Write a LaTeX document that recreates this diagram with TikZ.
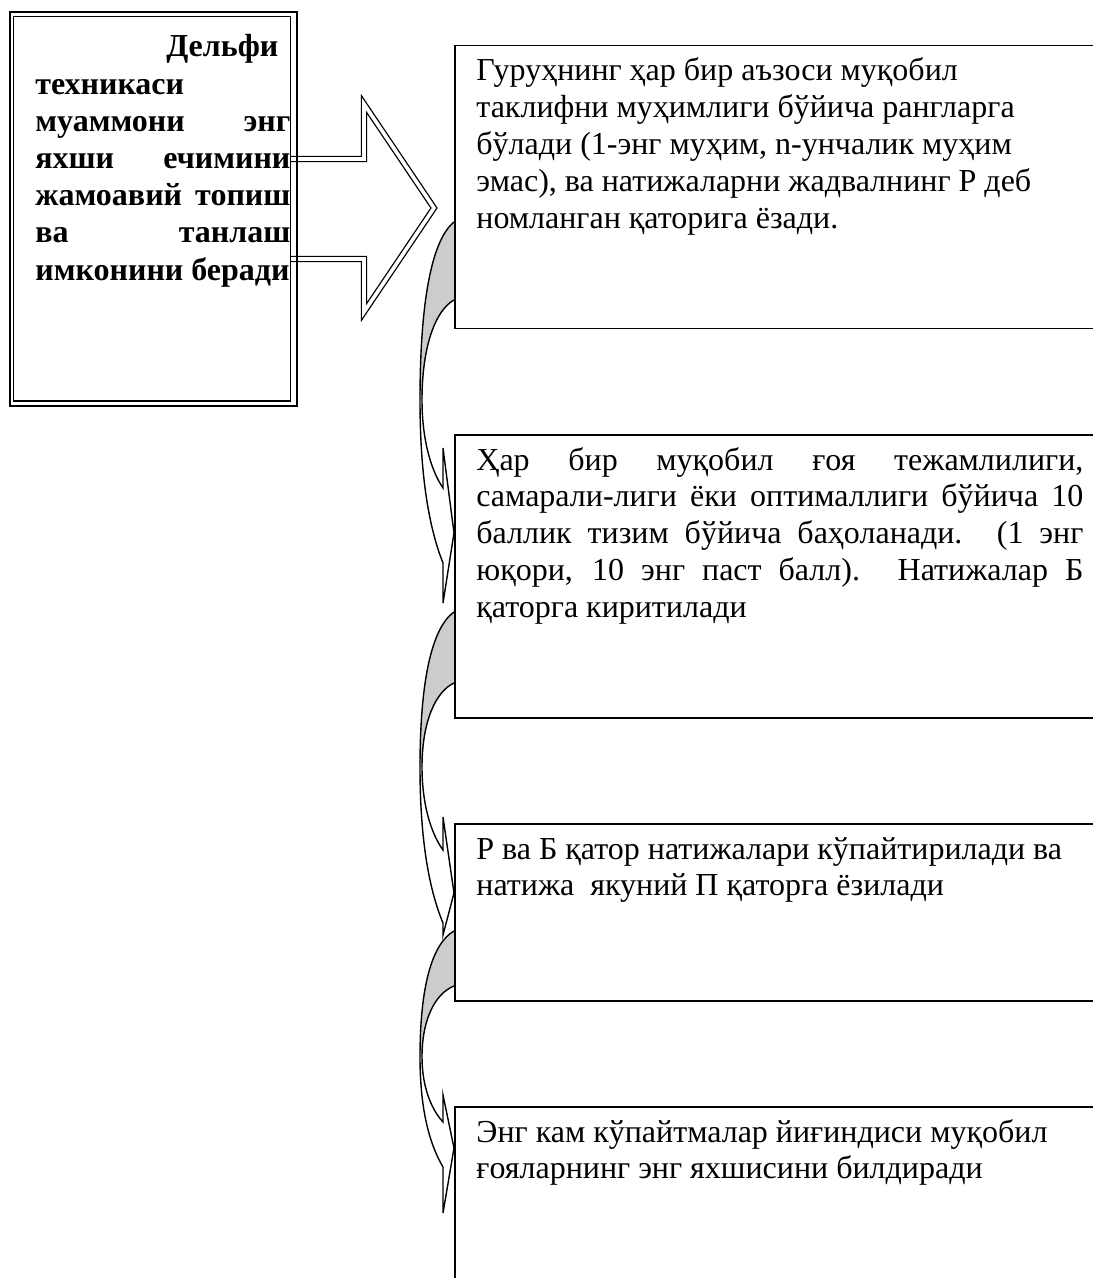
\documentclass[tikz,border=0pt]{standalone}
\usepackage{fontspec}
\setmainfont{Liberation Serif}
\begin{document}
\begin{tikzpicture}[x=0.5pt,y=-0.5pt,
        stage/.style={draw,line width=0.75pt,fill=white,anchor=north west,inner sep=0pt,minimum width=325pt},
        stagetext/.style={anchor=base west,inner sep=0pt,font=\fontsize{16pt}{18.4pt}\selectfont},
        leadtext/.style={anchor=base west,inner sep=0pt,font=\fontsize{16pt}{18.6pt}\selectfont\bfseries},
        frame/.style={draw,line width=1pt,anchor=north west,inner sep=0pt},
        blockarrow/.style={draw,line width=0.65pt,double=white,double distance=1.8pt},
        band/.style={draw,line width=0.7pt},
        back/.style={fill=gray!40}]
    \useasboundingbox (0,0) rectangle (1092,1278);
    % Curved arrows between the stages
    \foreach \yo/\yi/\ym/\ybt/\ynt/\ytip/\ynb/\ybb in {222/300/400/448/488/533/563/603,
            612/683/767/817/850/893/923/935,
            931/986/1057/1095/1122/1148/1167/1213} {
        \fill[back] (454,\yo) .. controls (432,{\yo+0.1*(\ym-\yo)}) and (420,{\yo+0.44*(\ym-\yo)}) .. (420,\ym)
            -- (422,\ym) .. controls (422,{\yi+0.45*(\ym-\yi)}) and (436,{\yi+0.1*(\ym-\yi)}) .. (454,\yi) -- cycle;
        \draw[band] (454,\yo) .. controls (432,{\yo+0.1*(\ym-\yo)}) and (420,{\yo+0.44*(\ym-\yo)}) .. (420,\ym)
            .. controls (420,{\ym+0.49*(\ynb-\ym)}) and (430,{\ym+0.8*(\ynb-\ym)}) .. (443,\ynb)
            -- (443,\ybb) -- (454,\ytip) -- (443,\ybt) -- (443,\ynt)
            .. controls (431,{\ym+0.8*(\ynt-\ym)}) and (422,{\ym+0.45*(\ynt-\ym)}) .. (422,\ym)
            .. controls (422,{\yi+0.45*(\ym-\yi)}) and (436,{\yi+0.1*(\ym-\yi)}) .. (454,\yi);
    }
    % Block arrow out of the left frame
    \draw[blockarrow] (291,159) -- (364,159) -- (364,104) -- (434,208) -- (364,312) -- (364,259) -- (291,259);
    % Left frame
    \node[frame,minimum width=143.25pt,minimum height=197pt] (delphi) at (9,11) {};
    \draw[line width=0.6pt] ([xshift=2.2pt,yshift=-2.8pt]delphi.north west) rectangle ([xshift=-3.4pt,yshift=3pt]delphi.south east);
    \node[leadtext] (lead) at (35,57) {\parbox[t]{127.5pt}{%
        \hfill Дельфи\hspace*{6pt}\\
        техникаси\\
        \makebox[127.5pt][s]{муаммони энг}\\
        \makebox[127.5pt][s]{яхши ечимини}\\
        \makebox[127.5pt][s]{жамоавий топиш}\\
        \makebox[127.5pt][s]{ва танлаш}\\
        имконини беради}};
    % Stages
    \node[stage,minimum height=141.5pt] (rank) at (454,45) {};
    \node[stage,minimum height=141.5pt] (score) at (454,434) {};
    \node[stage,minimum height=88.5pt] (product) at (454,823) {};
    \node[stage,minimum height=100pt] (sum) at (454,1106) {};
    \node[stagetext] (ranktext) at (476,81) {\parbox[t]{310pt}{\raggedright
        Гуруҳнинг ҳар бир аъзоси муқобил\\
        таклифни муҳимлиги бўйича рангларга\\
        бўлади (1-энг муҳим, n-унчалик муҳим\\
        эмас), ва натижаларни жадвалнинг Р деб\\
        номланган қаторига ёзади.}};
    \node[stagetext] (scoretext) at (476,470) {\parbox[t]{303.5pt}{%
        \makebox[303.5pt][s]{Ҳар бир муқобил ғоя тежамлилиги,}\\
        \makebox[303.5pt][s]{самарали-лиги ёки оптималлиги бўйича 10}\\
        \makebox[303.5pt][s]{баллик тизим бўйича баҳоланади. (1 энг}\\
        \makebox[303.5pt][s]{юқори, 10 энг паст балл). Натижалар Б}\\
        қаторга киритилади}};
    \node[stagetext] (producttext) at (476,859) {\parbox[t]{310pt}{\raggedright
        Р ва Б қатор натижалари кўпайтирилади ва\\
        натижа~ якуний П қаторга ёзилади}};
    \node[stagetext] (sumtext) at (476,1142) {\parbox[t]{310pt}{\raggedright
        Энг кам кўпайтмалар йиғиндиси муқобил\\
        ғояларнинг энг яхшисини билдиради}};
\end{tikzpicture}
\end{document}
